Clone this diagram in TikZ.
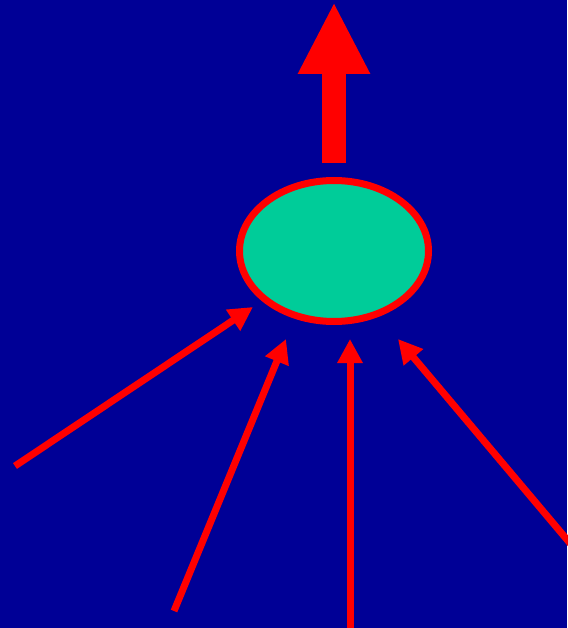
\documentclass[tikz,border=0pt]{standalone}
\usepackage{tikz}
\usetikzlibrary{arrows.meta,shapes.geometric}

\definecolor{bgblue}{RGB}{0,0,150}
\definecolor{poolgreen}{RGB}{0,204,153}

\tikzset{feed/.style={draw=red, line width=7pt, -{Triangle[length=24pt,width=24pt]}}}

\begin{document}
\begin{tikzpicture}[x=1pt, y=-1pt]

\fill[bgblue] (0,0) rectangle (567,628);
\useasboundingbox (0,0) rectangle (567,628);

\node [draw=red, line width=7pt, fill=poolgreen, ellipse, minimum width=189pt, minimum height=141pt] (pool) at (334,251) {};

\coordinate (top) at (334,2);

\coordinate (src1) at (15,466);
\coordinate (src2) at (174,611);
\coordinate (src3) at (350,640);
\coordinate (src4) at (585,561);

\coordinate (tip1) at (253,307);
\coordinate (tip2) at (286,339);
\coordinate (tip3) at (350,339);
\coordinate (tip4) at (398,339);

\draw[red, line width=24pt, shorten <=14pt, -{Triangle[length=72pt,width=67pt]}] (pool.north) -- (top);

\draw[feed] (src1) -- (tip1);
\draw[feed] (src2) -- (tip2);
\draw[feed] (src3) -- (tip3);
\draw[feed] (src4) -- (tip4);

\end{tikzpicture}
\end{document}
